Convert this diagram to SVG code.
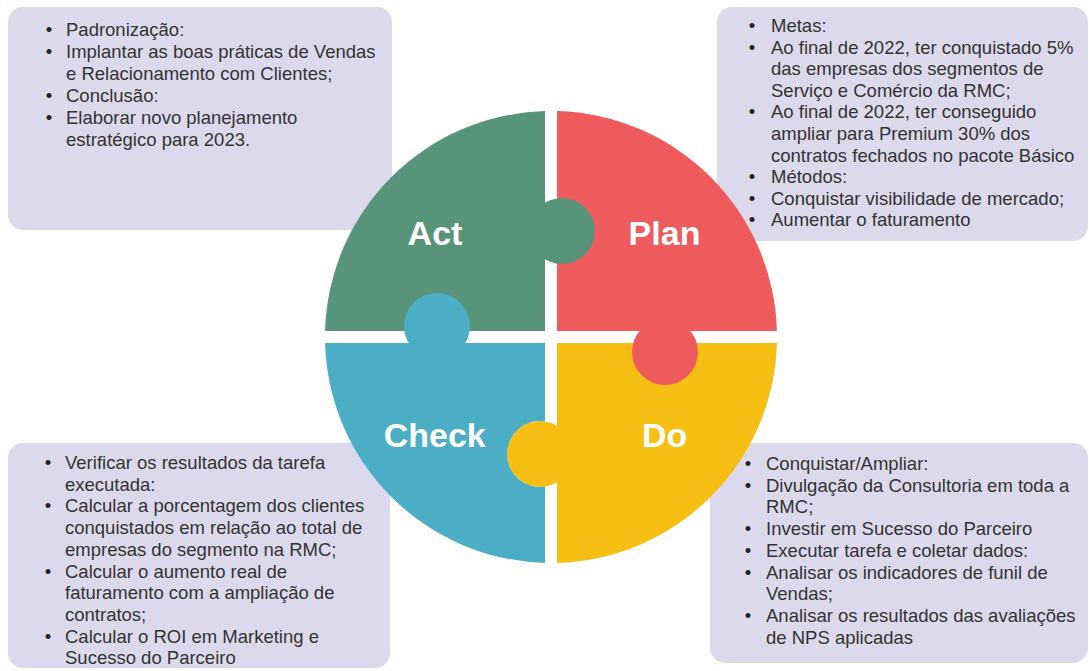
<svg xmlns="http://www.w3.org/2000/svg" width="1089" height="671" viewBox="0 0 1089 671">
  <style>
    .box { fill: #dcd9ec; }
    .txt { font-family: "Liberation Sans", Arial, sans-serif; font-size: 18.5px; fill: #333333; }
    .dot { font-family: "Liberation Sans", Arial, sans-serif; font-size: 18.5px; fill: #222222; text-anchor: middle; }
    .label { font-family: "Liberation Sans", Arial, sans-serif; font-size: 34px; font-weight: bold; fill: #ffffff; text-anchor: middle; }
    .act { fill: #58947a; }
    .plan { fill: #ef5b5c; }
    .do { fill: #f7be14; }
    .check { fill: #4caec4; }
  </style>
  <rect width="1089" height="671" fill="#ffffff"/>

  <!-- Text panels -->
  <g id="panel-act">
    <rect class="box" x="8" y="7" width="384" height="223" rx="15"/>
    <g class="dot">
      <text x="49" y="36">•</text>
      <text x="49" y="58">•</text>
      <text x="49" y="102">•</text>
      <text x="49" y="124">•</text>
    </g>
    <g class="txt">
      <text x="66" y="36">Padronização:</text>
      <text x="66" y="58">Implantar as boas práticas de Vendas</text>
      <text x="66" y="80">e Relacionamento com Clientes;</text>
      <text x="66" y="102">Conclusão:</text>
      <text x="66" y="124">Elaborar novo planejamento</text>
      <text x="66" y="146">estratégico para 2023.</text>
    </g>
  </g>

  <g id="panel-plan">
    <rect class="box" x="717" y="7" width="371" height="234" rx="15"/>
    <g class="dot">
      <text x="752" y="32">•</text>
      <text x="752" y="53.6">•</text>
      <text x="752" y="118.4">•</text>
      <text x="752" y="183.2">•</text>
      <text x="752" y="204.8">•</text>
      <text x="752" y="226.4">•</text>
    </g>
    <g class="txt">
      <text x="771" y="32">Metas:</text>
      <text x="771" y="53.6">Ao final de 2022, ter conquistado 5%</text>
      <text x="771" y="75.2">das empresas dos segmentos de</text>
      <text x="771" y="96.8">Serviço e Comércio da RMC;</text>
      <text x="771" y="118.4">Ao final de 2022, ter conseguido</text>
      <text x="771" y="140">ampliar para Premium 30% dos</text>
      <text x="771" y="161.6">contratos fechados no pacote Básico</text>
      <text x="771" y="183.2">Métodos:</text>
      <text x="771" y="204.8">Conquistar visibilidade de mercado;</text>
      <text x="771" y="226.4">Aumentar o faturamento</text>
    </g>
  </g>

  <g id="panel-check">
    <rect class="box" x="8" y="443" width="382" height="225" rx="15"/>
    <g class="dot">
      <text x="48" y="469">•</text>
      <text x="48" y="512.4">•</text>
      <text x="48" y="577.5">•</text>
      <text x="48" y="642.6">•</text>
    </g>
    <g class="txt">
      <text x="65" y="469">Verificar os resultados da tarefa</text>
      <text x="65" y="490.7">executada:</text>
      <text x="65" y="512.4">Calcular a porcentagem dos clientes</text>
      <text x="65" y="534.1">conquistados em relação ao total de</text>
      <text x="65" y="555.8">empresas do segmento na RMC;</text>
      <text x="65" y="577.5">Calcular o aumento real de</text>
      <text x="65" y="599.2">faturamento com a ampliação de</text>
      <text x="65" y="620.9">contratos;</text>
      <text x="65" y="642.6">Calcular o ROI em Marketing e</text>
      <text x="65" y="664.3">Sucesso do Parceiro</text>
    </g>
  </g>

  <g id="panel-do">
    <rect class="box" x="710" y="443" width="378" height="220" rx="15"/>
    <g class="dot">
      <text x="748" y="470">•</text>
      <text x="748" y="491.7">•</text>
      <text x="748" y="535.1">•</text>
      <text x="748" y="556.8">•</text>
      <text x="748" y="578.5">•</text>
      <text x="748" y="621.9">•</text>
    </g>
    <g class="txt">
      <text x="766" y="470">Conquistar/Ampliar:</text>
      <text x="766" y="491.7">Divulgação da Consultoria em toda a</text>
      <text x="766" y="513.4">RMC;</text>
      <text x="766" y="535.1">Investir em Sucesso do Parceiro</text>
      <text x="766" y="556.8">Executar tarefa e coletar dados:</text>
      <text x="766" y="578.5">Analisar os indicadores de funil de</text>
      <text x="766" y="600.2">Vendas;</text>
      <text x="766" y="621.9">Analisar os resultados das avaliações</text>
      <text x="766" y="643.6">de NPS aplicadas</text>
    </g>
  </g>

  <!-- PDCA puzzle wheel: each piece is a quarter disc plus one knob.
       Drawing order Do, Plan, Act, Check keeps every knob on top of its
       neighbour; the Check piece carries a cut-out socket for the Do knob. -->
  <g id="do">
    <path class="do" d="M557,343 L776.92,343 A226,226 0 0 1 557,562.92 Z"/>
    <circle class="do" cx="540" cy="454" r="33"/>
    <text class="label" x="664.7" y="446.7">Do</text>
  </g>
  <g id="plan">
    <path class="plan" d="M557,331 L557,111.08 A226,226 0 0 1 776.92,331 Z"/>
    <circle class="plan" cx="665" cy="352" r="33"/>
    <text class="label" x="664.5" y="245">Plan</text>
  </g>
  <g id="act">
    <path class="act" d="M545,331 L545,111.08 A226,226 0 0 0 325.08,331 Z"/>
    <circle class="act" cx="562" cy="231" r="33"/>
    <text class="label" x="435" y="245">Act</text>
  </g>
  <g id="check">
    <path class="check" d="M545,343 L545,421.38 A33,33 0 1 0 545,486.62 L545,562.92 A226,226 0 0 1 325.08,343 Z"/>
    <circle class="check" cx="437" cy="326" r="33"/>
    <text class="label" x="434.7" y="446.7">Check</text>
  </g>

  <g id="connectors"/>
</svg>
